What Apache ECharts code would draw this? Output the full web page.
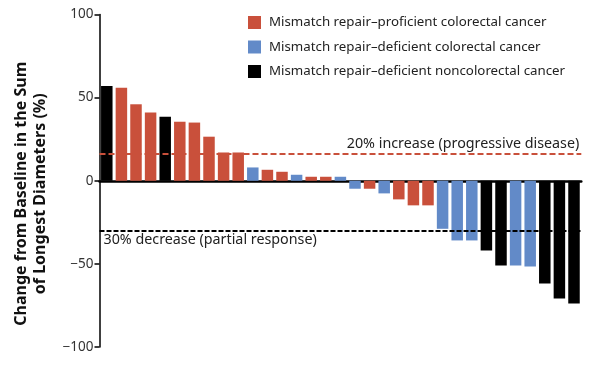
<!DOCTYPE html>
<html><head><meta charset="utf-8">
<script src="https://cdn.jsdelivr.net/npm/echarts@6/dist/echarts.min.js"></script>
<style>html,body{margin:0;padding:0;background:#fff}#c{width:598px;height:367px}</style>
</head><body><div id="c"></div>
<script>
// group per patient: P = proficient colorectal, D = deficient colorectal, N = deficient noncolorectal
const groups = ['N','P','P','P','N','P','P','P','P','P','D','P','P','D','P','P','D',
                'D','P','D','P','P','P','D','D','D','N','N','D','D','N','N','N'];
const values = [57,56,46,41,38.5,35.5,35,26.5,17,17,8,6.6,5.4,3.6,2.4,2.4,2.4,
                -4.8,-4.8,-7.6,-11.2,-14.8,-14.8,-28.9,-35.9,-35.9,-42,-51,-51,-51.6,-61.8,-70.9,-73.9];
const seriesNames = ['Mismatch repair\u2013proficient colorectal cancer',
                     'Mismatch repair\u2013deficient colorectal cancer',
                     'Mismatch repair\u2013deficient noncolorectal cancer'];
const groupKeys = ['P','D','N'];
const colors = ['#c9503b','#628ac8','#000000'];
const yTicks = {min:-100, max:100, interval:50};
const refLines = [{value:16, label:'20% increase (progressive disease)'},
                  {value:-30, label:'30% decrease (partial response)'}];
const yTitle = 'Change from Baseline in the Sum\nof Longest Diameters (%)';

const cats = values.map((v,i)=>String(i+1));
const FONT = '"Noto Sans"';
const series = groupKeys.map((g,k)=>({
  name: seriesNames[k],
  type: 'bar',
  barWidth: 11.5,
  barGap: '-100%',
  itemStyle: {color: colors[k]},
  data: values.map((v,i)=> groups[i]===g ? v : '-'),
  silent: true,
  z: 2
}));
series[0].markLine = {
  silent: true, symbol: 'none', animation: false,
  data: [
    {yAxis: refLines[0].value, lineStyle:{color:'#c9503b', type:[6,3], width:2},
     label:{show:true, formatter:refLines[0].label, position:'insideEndTop', color:'#222', fontSize:14.3, fontFamily:FONT, distance:[2,3]}},
    {yAxis: refLines[1].value, lineStyle:{color:'#000', type:[5,2], width:2},
     label:{show:true, formatter:refLines[1].label, position:'insideStartBottom', color:'#222', fontSize:14.3, fontFamily:FONT, distance:[4,2]}}
  ]
};
const chart = echarts.init(document.getElementById('c'), null, {renderer:'canvas'});
chart.setOption({
  animation: false,
  backgroundColor: '#fff',
  grid: {left: 99.5, right: 16.7, top: 14.5, bottom: 20},
  legend: {
    orient: 'vertical', left: 248, top: 16, padding: 0,
    itemWidth: 13, itemHeight: 13, itemGap: 11.5,
    icon: 'rect',
    textStyle: {fontSize: 13.3, color: '#222', fontFamily: FONT, padding:[0,0,0,3]},
    data: seriesNames
  },
  xAxis: {
    type: 'category', data: cats,
    axisLine: {onZero: true, lineStyle: {color:'#000', width: 2.5}},
    axisTick: {show:false}, axisLabel: {show:false}, splitLine:{show:false}
  },
  yAxis: {
    type: 'value', min: yTicks.min, max: yTicks.max, interval: yTicks.interval,
    name: yTitle, nameLocation: 'middle', nameGap: 50, nameRotate: 90,
    nameTextStyle: {fontSize: 16, fontWeight: 'bold', color:'#111', fontFamily: FONT, lineHeight: 18.5, padding:[0,26,0,0]},
    axisLine: {show: true, onZero: false, lineStyle: {color:'#000', width: 1.5}},
    axisTick: {show: true, length: 5, lineStyle:{color:'#000', width:1.5}},
    axisLabel: {fontSize: 13.5, color:'#333', fontFamily: FONT, margin: 6,
      formatter: v => v < 0 ? '\u2212' + Math.abs(v) : String(v)},
    splitLine: {show:false}
  },
  series: series
});
</script></body></html>
